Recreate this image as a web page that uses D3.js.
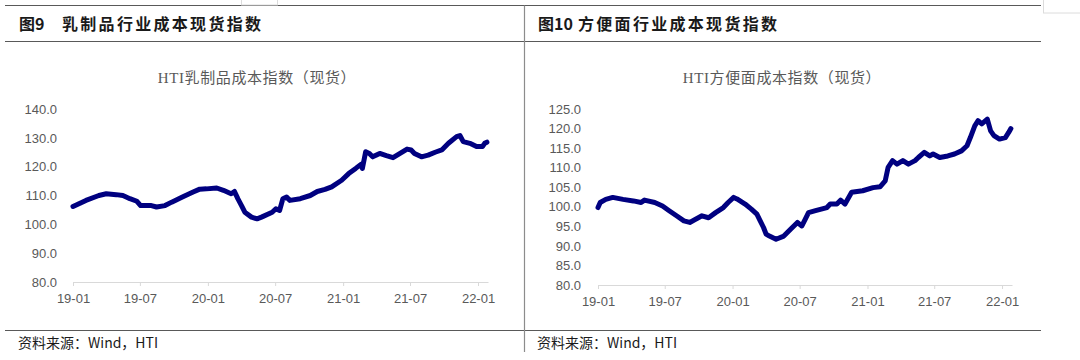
<!DOCTYPE html>
<html>
<head>
<meta charset="utf-8">
<script src="https://cdn.jsdelivr.net/npm/d3@7"></script>
<style>
  body { margin: 0; background: #fff; }
  svg { display: block; }
</style>
</head>
<body>
<div id="chart"></div>
<script>
// x axis tick labels (every 6 months)
const xTickLabels = ["19-01", "19-07", "20-01", "20-07", "21-01", "21-07", "22-01"];
const leftYTicks = [80, 90, 100, 110, 120, 130, 140];
const rightYTicks = [80, 85, 90, 95, 100, 105, 110, 115, 120, 125];

// HTI 乳制品成本指数（现货）
const dairyDates = ["2019-01-01","2019-02-05","2019-03-12","2019-04-01","2019-04-28","2019-05-16","2019-06-04","2019-06-23",
  "2019-07-03","2019-08-01","2019-08-15","2019-09-07","2019-09-25","2019-10-24","2019-11-22","2019-12-10","2019-12-28",
  "2020-01-25","2020-02-12","2020-03-04","2020-03-13","2020-03-22","2020-04-01","2020-04-10","2020-04-28","2020-05-13",
  "2020-05-25","2020-06-23","2020-07-03","2020-07-13","2020-07-22","2020-08-01","2020-08-10","2020-09-07","2020-10-04",
  "2020-10-23","2020-11-13","2020-12-01","2020-12-28","2021-01-16","2021-02-04","2021-02-18","2021-02-22","2021-03-03",
  "2021-03-13","2021-03-22","2021-04-10","2021-04-28","2021-05-16","2021-06-04","2021-06-23","2021-07-04","2021-07-13",
  "2021-08-01","2021-08-19","2021-09-07","2021-09-25","2021-10-13","2021-11-04","2021-11-13","2021-11-22","2021-12-10",
  "2021-12-28","2022-01-13","2022-01-19","2022-01-25"];
const dairyValues = [106.2,108.3,110.0,110.6,110.3,110.0,108.9,108.0,
  106.5,106.5,106.0,106.5,107.7,109.5,111.2,112.2,112.3,
  112.6,111.8,110.6,111.4,108.9,106.5,104.2,102.5,101.9,
  102.5,104.2,105.4,104.8,108.9,109.5,108.3,108.9,110.0,
  111.4,112.1,113.0,115.3,117.6,119.4,120.8,119.4,125.2,
  124.6,123.4,124.6,123.8,123.1,124.6,126.1,125.8,124.6,
  123.4,124.0,125.0,125.8,128.1,130.4,130.8,128.7,128.1,
  127.0,127.0,128.1,128.5];

// HTI 方便面成本指数（现货）
const noodleDates = ["2019-01-01","2019-01-07","2019-01-22","2019-02-10","2019-03-10","2019-04-07","2019-04-28","2019-05-07",
  "2019-06-04","2019-06-25","2019-07-13","2019-08-02","2019-08-22","2019-09-07","2019-09-19","2019-10-10","2019-10-28",
  "2019-11-16","2019-12-07","2019-12-20","2020-01-04","2020-01-13","2020-02-04","2020-02-21","2020-03-07","2020-03-16",
  "2020-03-25","2020-04-01","2020-04-10","2020-04-28","2020-05-19","2020-06-07","2020-06-25","2020-07-07","2020-07-16",
  "2020-07-25","2020-08-13","2020-09-13","2020-09-22","2020-10-10","2020-10-20","2020-11-01","2020-11-19","2020-12-19",
  "2021-01-16","2021-02-04","2021-02-18","2021-02-26","2021-03-10","2021-03-22","2021-04-07","2021-04-22","2021-05-10",
  "2021-05-19","2021-06-04","2021-06-19","2021-06-28","2021-07-16","2021-08-07","2021-08-25","2021-09-13","2021-09-28",
  "2021-10-07","2021-10-19","2021-10-28","2021-11-07","2021-11-22","2021-12-01","2021-12-10","2021-12-25","2022-01-10",
  "2022-01-19","2022-01-25"];
const noodleValues = [99.8,101.1,101.9,102.4,101.9,101.5,101.1,101.7,
  101.1,100.2,99.0,97.7,96.4,96.0,96.6,97.7,97.2,
  98.5,99.8,101.1,102.4,102.0,100.7,99.4,98.1,96.4,
  94.7,93.0,92.5,91.7,92.5,94.3,96.0,95.1,96.8,
  98.5,99.0,99.8,100.7,100.7,101.7,100.7,103.7,104.1,
  104.9,105.1,106.6,110.1,111.8,110.9,111.8,110.9,111.8,
  112.6,113.9,113.0,113.5,112.6,113.0,113.5,114.3,115.6,
  117.7,120.7,122.0,121.2,122.4,119.4,118.2,117.3,117.7,
  119.0,120.0];

const W = 1080, H = 360;
const parse = d3.timeParse("%Y-%m-%d");
const fmtTick = d3.timeFormat("%y-%m");

const svg = d3.select("#chart").append("svg")
    .attr("width", W)
    .attr("height", H);

// page frame lines
const frame = svg.append("g").attr("stroke", "#595959").attr("stroke-width", 1.2);
frame.append("line").attr("x1", 5).attr("x2", 1041).attr("y1", 5.5).attr("y2", 5.5);
frame.append("line").attr("x1", 5).attr("x2", 1041).attr("y1", 41.5).attr("y2", 41.5);
frame.append("line").attr("x1", 5).attr("x2", 1041).attr("y1", 330.5).attr("y2", 330.5);
frame.append("line").attr("x1", 524.5).attr("x2", 524.5).attr("y1", 5.5).attr("y2", 352)
    .attr("stroke", "#8c8c8c");
// small page artifacts at the top
svg.append("rect").attr("x", 241.5).attr("y", -1).attr("width", 36).attr("height", 6)
    .attr("fill", "none").attr("stroke", "#dcdcdc");
svg.append("rect").attr("x", 1043.5).attr("y", -1).attr("width", 40).attr("height", 14)
    .attr("fill", "none").attr("stroke", "#dcdcdc");

function header(x1, x2, num, text) {
  svg.append("text")
    .attr("x", x1).attr("y", 30)
    .attr("font-family", "'Noto Sans CJK SC', sans-serif")
    .attr("font-weight", "bold").attr("font-size", 16)
    .attr("fill", "#1a1a1a")
    .text(num);
  svg.append("text")
    .attr("x", x2).attr("y", 30)
    .attr("font-family", "'Noto Sans CJK SC', serif")
    .attr("font-weight", "bold").attr("font-size", 16)
    .attr("letter-spacing", 2.3)
    .attr("fill", "#1a1a1a")
    .text(text);
}
header(19, 62, "图9", "乳制品行业成本现货指数");
header(538, 578, "图10", "方便面行业成本现货指数");

function source(x) {
  svg.append("text")
    .attr("x", x).attr("y", 348)
    .attr("font-family", "'Liberation Sans Narrow', 'Noto Sans CJK SC', sans-serif")
    .attr("font-size", 14)
    .attr("fill", "#1a1a1a")
    .text("资料来源：Wind，HTI");
}
source(18);
source(537);

function panel(cfg) {
  const data = cfg.dates.map((d, i) => ({ date: parse(d), value: cfg.values[i] }));

  const x = d3.scaleTime()
      .domain([parse("2019-01-01"), parse("2022-01-28")])
      .range([cfg.x0, cfg.x1]);
  const y = d3.scaleLinear()
      .domain([cfg.yTicks[0], cfg.yTicks[cfg.yTicks.length - 1]])
      .range([cfg.yBottom, cfg.yTop]);

  const g = svg.append("g");

  // chart title
  g.append("text")
    .attr("x", cfg.titleX).attr("y", 83)
    .attr("text-anchor", "middle")
    .attr("font-family", "'Liberation Serif', 'Noto Sans CJK SC', serif")
    .attr("font-size", 15)
    .attr("letter-spacing", 0.6)
    .attr("fill", "#595959")
    .text(cfg.title);

  // x axis
  const xTicks = xTickLabels.map(s => parse("20" + s + "-01"));
  const xa = g.append("g")
    .attr("transform", `translate(0,${cfg.yBottom})`)
    .call(d3.axisBottom(x).tickValues(xTicks).tickFormat(fmtTick)
      .tickSizeInner(4).tickSizeOuter(0).tickPadding(8));
  xa.select(".domain").attr("stroke", "#d9d9d9");
  xa.selectAll(".tick line").attr("stroke", "#d9d9d9");
  xa.selectAll(".tick text")
    .attr("font-family", "'Liberation Sans', Arial, sans-serif")
    .attr("font-size", 13).attr("fill", "#595959");

  // y axis (labels only)
  const ya = g.append("g")
    .attr("transform", `translate(${cfg.x0},0)`)
    .call(d3.axisLeft(y).tickValues(cfg.yTicks).tickFormat(d3.format(".1f"))
      .tickSize(0).tickPadding(cfg.yPad));
  ya.select(".domain").remove();
  ya.selectAll(".tick text")
    .attr("font-family", "'Liberation Sans', Arial, sans-serif")
    .attr("font-size", 13).attr("fill", "#595959");

  const line = d3.line()
    .x(d => x(d.date))
    .y(d => y(d.value));

  g.append("path")
    .datum(data)
    .attr("fill", "none")
    .attr("stroke", "#000080")
    .attr("stroke-width", 5)
    .attr("stroke-linejoin", "round")
    .attr("stroke-linecap", "round")
    .attr("d", line);
}

panel({
  dates: dairyDates, values: dairyValues, yTicks: leftYTicks,
  x0: 73, x1: 488, yTop: 109, yBottom: 282, yPad: 16,
  titleX: 257, title: "HTI乳制品成本指数（现货）"
});
panel({
  dates: noodleDates, values: noodleValues, yTicks: rightYTicks,
  x0: 598, x1: 1012, yTop: 109, yBottom: 285, yPad: 17,
  titleX: 782, title: "HTI方便面成本指数（现货）"
});
</script>
</body>
</html>
